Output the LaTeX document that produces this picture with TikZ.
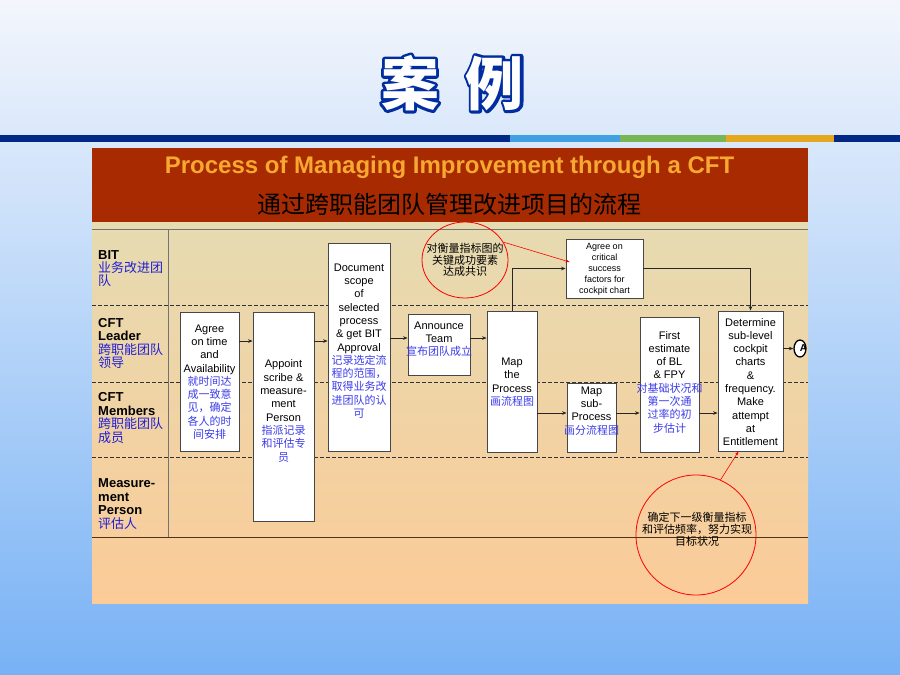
\documentclass[tikz,border=0pt]{standalone}
\usepackage{fontspec}
\setmainfont{Liberation Sans}
\newfontfamily\cjk{Noto Sans CJK SC}
\usetikzlibrary{arrows.meta,shapes.geometric,calc}
\definecolor{cnblue}{RGB}{60,60,235}
\definecolor{lblue}{RGB}{30,30,215}
\definecolor{hdred}{RGB}{168,42,0}
\definecolor{hdorange}{RGB}{247,168,48}
\definecolor{barblue}{RGB}{0,40,135}
\definecolor{barlblue}{RGB}{65,160,225}
\definecolor{bargreen}{RGB}{120,182,85}
\definecolor{barorange}{RGB}{228,168,30}
\definecolor{ttlblue}{RGB}{0,45,160}
\newcommand\cnb[1]{{\cjk\color{cnblue}#1}}
\newcommand\cnl[1]{{\cjk\color{lblue}#1}}
\newcommand\strk[1]{\special{pdf:literal direct 2 Tr 5.5 w 1 j}#1\special{pdf:literal direct 0 Tr}}
\begin{document}
\begin{tikzpicture}[x=1pt,y=-1pt,
  box/.style={draw=black!72,fill=white,line width=0.8pt,inner sep=0pt},
  btxt/.style={align=center,inner sep=0pt,font=\fontsize{11}{13.3}\selectfont},
  stxt/.style={align=center,inner sep=0pt,font=\fontsize{9}{11}\selectfont},
  lab/.style={align=left,inner sep=0pt,anchor=west,font=\fontsize{13}{13.4}\selectfont},
  arr/.style={-{Stealth[length=4.5pt,width=3.6pt]},line width=0.7pt,black!85},
  rarr/.style={-{Stealth[length=4pt,width=3pt]},line width=0.6pt,red},
  dline/.style={black!80,line width=0.7pt,dash pattern=on 3.5pt off 2.5pt},
  ctxt/.style={align=center,inner sep=0pt,font=\cjk\fontsize{11}{11.8}\selectfont},
  ttl/.style={font=\cjk\bfseries\fontsize{58}{58}\selectfont,inner sep=0pt}]
\useasboundingbox (0,0) rectangle (900,675);
% page background
\shade[top color={rgb,255:red,243;green,246;blue,252},bottom color={rgb,255:red,120;green,178;blue,245}] (0,0) rectangle (900,675);
% title: blue stroked copy under white text
\node[ttl,text=ttlblue] (tab) at (452.5,83) {\strk{案\hspace{27pt}例}};
\node[ttl,text=white] (ta) at (452.5,83) {案\hspace{27pt}例};
% colour bar
\fill[barblue] (0,135) rectangle (510,141.5);
\fill[barlblue] (510,135) rectangle (620,141.5);
\fill[bargreen] (620,135) rectangle (726,141.5);
\fill[barorange] (726,135) rectangle (834,141.5);
\fill[barblue] (834,135) rectangle (900,141.5);
% panel
\shade[top color={rgb,255:red,226;green,222;blue,182},bottom color={rgb,255:red,251;green,203;blue,152}] (92,148) rectangle (808,603);
\fill[hdred] (92,148) rectangle (808,222);
\node[font=\bfseries\fontsize{24}{24}\selectfont,text=hdorange,inner sep=0pt] (h1) at (449.5,167) {Process of Managing Improvement through a CFT};
\node[font=\cjk\fontsize{24}{24}\selectfont,inner sep=0pt] (h2) at (449.5,204) {通过跨职能团队管理改进项目的流程};
% lane lines
\draw[black!55,line width=0.9pt] (92,229) -- (808,229);
\draw[black!55,line width=0.9pt] (168,229) -- (168,537);
\draw[black!60!brown,line width=0.9pt] (92,537) -- (808,537);
\draw[dline] (92,305) -- (808,305);
\draw[dline] (92,382) -- (808,382);
\draw[dline] (92,457) -- (808,457);
% lane labels
\node[lab] (l1) at (98,268.5) {\textbf{BIT}\\\cnl{业务改进团}\\\cnl{队}};
\node[lab] (l2) at (98,343.5) {\textbf{CFT}\\\textbf{Leader}\\\cnl{跨职能团队}\\\cnl{领导}};
\node[lab] (l3) at (98,418) {\textbf{CFT}\\\textbf{Members}\\\cnl{跨职能团队}\\\cnl{成员}};
\node[lab] (l4) at (98,504) {\textbf{Measure-}\\\textbf{ment}\\\textbf{Person}\\\cnl{评估人}};
% boxes
\node[box,minimum width=59pt,minimum height=139pt] (b1) at (209.5,381.5) {};
\node[box,minimum width=61pt,minimum height=209pt] (b2) at (283.5,416.5) {};
\node[box,minimum width=62pt,minimum height=208pt] (b3) at (359,347) {};
\node[box,minimum width=62pt,minimum height=61pt] (b4) at (439,344.5) {};
\node[box,minimum width=50pt,minimum height=141pt] (b5) at (512,381.5) {};
\node[box,minimum width=49pt,minimum height=69pt] (b6) at (591.5,417.5) {};
\node[box,minimum width=59pt,minimum height=135pt] (b7) at (669.5,384.5) {};
\node[box,minimum width=65pt,minimum height=140pt] (b8) at (750.5,381) {};
\node[box,minimum width=77pt,minimum height=59pt] (b9) at (604.5,268.5) {};
% box texts
\node[btxt] (t1) at (209.5,382) {Agree\\on time\\and\\Availability\\\cnb{就时间达}\\\cnb{成一致意}\\\cnb{见，确定}\\\cnb{各人的时}\\\cnb{间安排}};
\node[btxt] (t2) at (283.5,411) {Appoint\\scribe \&\\measure-\\ment\\Person\\\cnb{指派记录}\\\cnb{和评估专}\\\cnb{员}};
\node[btxt] (t3) at (359,341) {Document\\scope\\of\\selected\\process\\\& get BIT\\Approval\\\cnb{记录选定流}\\\cnb{程的范围，}\\\cnb{取得业务改}\\\cnb{进团队的认}\\\cnb{可}};
\node[btxt] (t4) at (439,339) {Announce\\Team\\\cnb{宣布团队成立}};
\node[btxt] (t5) at (512,382) {Map\\the\\Process\\\cnb{画流程图}};
\node[btxt] (t6) at (591.5,411) {Map\\sub-\\Process\\\cnb{画分流程图}};
\node[btxt] (t7) at (669.5,382) {First\\estimate\\of BL\\\& FPY\\\cnb{对基础状况和}\\\cnb{第一次通}\\\cnb{过率的初}\\\cnb{步估计}};
\node[btxt] (t8) at (750.5,382) {Determine\\sub-level\\cockpit\\charts\\\&\\frequency.\\Make\\attempt\\at\\Entitlement};
\node[stxt] (t9) at (604.5,269) {Agree on\\critical\\success\\factors for\\cockpit chart};
% level coordinates
\coordinate (y341) at (0,341);
\coordinate (y338) at (0,338);
\coordinate (y413) at (0,413);
\coordinate (y348) at (0,348.5);
% connectors
\draw[arr] (b1.east |- y341) -- (b2.west |- y341);
\draw[arr] (b2.east |- y341) -- (b3.west |- y341);
\draw[arr] (b3.east |- y338) -- (b4.west |- y338);
\draw[arr] (b4.east |- y338) -- (b5.west |- y338);
\draw[arr] (b5.north) |- (b9.west);
\draw[arr] (b9.east) -| (b8.north);
\draw[arr] (b5.east |- y413) -- (b6.west |- y413);
\draw[arr] (b6.east |- y413) -- (b7.west |- y413);
\draw[arr] (b7.east |- y413) -- (b8.west |- y413);
\node[ellipse,draw=black,fill=white,line width=1.3pt,minimum width=12pt,minimum height=17pt,inner sep=0pt] (A) at (800,348.5) {};
\begin{scope}
\clip (A.center) ellipse (5.5pt and 8pt);
\node[font=\bfseries\fontsize{10}{10}\selectfont,inner sep=0pt] (At) at (803.5,348.5) {A};
\end{scope}
\draw[arr] (b8.east |- y348) -- (A.west);
% red annotations
\node[draw=red,ellipse,minimum width=86pt,minimum height=76pt,inner sep=0pt,line width=0.8pt] (c1) at (465,260) {};
\node[ctxt] (c1t) at (465,260) {对衡量指标图的\\关键成功要素\\达成共识};
\draw[rarr] (c1.25) -- ([xshift=4pt,yshift=6.5pt]b9.west);
\node[draw=red,circle,minimum size=120pt,inner sep=0pt,line width=0.8pt] (c2) at (696,535) {};
\node[ctxt] (c2t) at (697,529.5) {确定下一级衡量指标\\和评估频率，努力实现\\目标状况};
\draw[rarr] (c2.66) -- ([xshift=-12pt]b8.south);
\end{tikzpicture}
\end{document}
